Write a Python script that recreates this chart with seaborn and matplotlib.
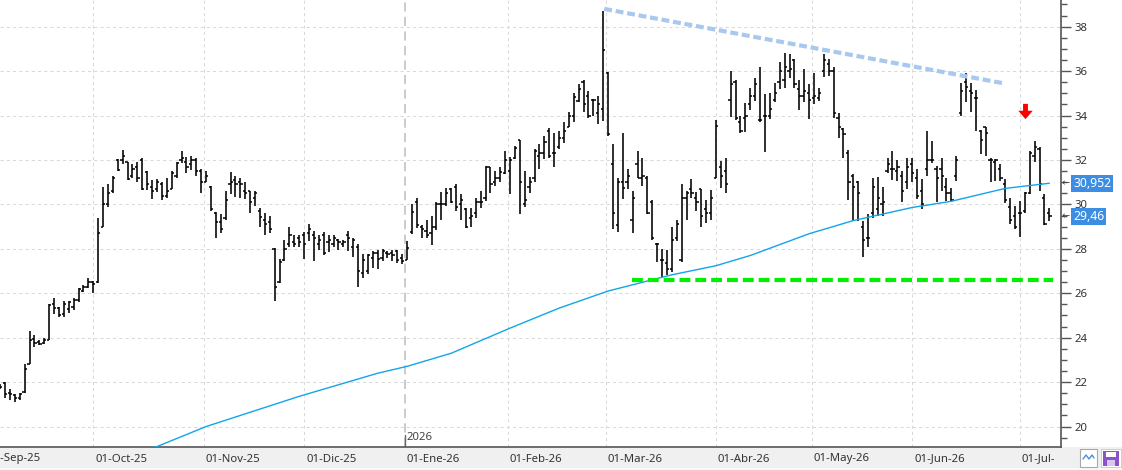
import numpy as np
import pandas as pd
import matplotlib
matplotlib.use("Agg")
import matplotlib.pyplot as plt
import matplotlib.transforms as mtransforms
from matplotlib.path import Path
from matplotlib.patches import Rectangle
from matplotlib.ticker import MultipleLocator
import seaborn as sns

# ---------------- data ----------------
START, END = "2025-09-04", "2026-07-09"
HOLIDAYS = ["2025-12-25", "2025-12-26", "2026-01-01", "2026-04-03", "2026-04-06", "2026-05-01"]
MONTH_ABBR = {1: "Ene", 2: "Feb", 3: "Mar", 4: "Abr", 5: "May", 6: "Jun",
              7: "Jul", 8: "Ago", 9: "Sep", 10: "Oct", 11: "Nov", 12: "Dic"}

high = [21.9, 22.0, 21.7, 21.45, 21.5, 22.8, 24.3, 24.1, 23.9, 24.0,
        25.5, 25.8, 25.4, 25.65, 25.65, 25.8, 26.25, 26.35, 26.7, 26.55,
        29.4, 30.8, 30.9, 31.3, 32.05, 32.45, 31.9, 31.8, 31.9, 32.1,
        31.5, 31.1, 31.15, 31.0, 31.2, 31.5, 31.9, 32.4, 32.15, 32.2,
        32.1, 31.6, 31.5, 30.85, 29.65, 29.55, 30.6, 31.45, 31.3, 31.2,
        31.0, 30.6, 30.6, 29.85, 29.6, 29.5, 28.05, 27.55, 28.4, 29.0,
        28.6, 28.6, 28.75, 29.1, 28.8, 28.6, 28.75, 28.6, 28.6, 28.45,
        28.4, 28.8, 28.5, 28.2, 27.75, 27.75, 27.9, 27.95, 28.0, 27.9,
        27.95, 27.95, 27.75, 28.35, 30.0, 30.3, 29.05, 29.3, 29.5, 30.1,
        30.55, 30.75, 30.75, 30.9, 30.45, 29.85, 29.85, 30.3, 30.6, 31.75,
        31.7, 31.5, 31.7, 32.4, 32.15, 32.65, 32.9, 31.5, 31.25, 32.5,
        32.7, 33.1, 33.45, 33.2, 33.3, 33.7, 34.15, 35.0, 35.4, 35.6,
        35.1, 34.75, 34.9, 38.7, 35.95, 32.7, 31.2, 33.2, 31.6, 30.6,
        32.4, 32.1, 31.3, 30.2, 28.25, 28.0, 27.95, 29.0, 29.3, 30.9,
        30.6, 31.15, 30.55, 30.7, 30.2, 30.65, 33.8, 31.95, 32.1, 36.0,
        35.6, 34.0, 34.55, 35.25, 35.7, 36.2, 34.95, 35.0, 35.45, 36.4,
        36.8, 36.75, 36.55, 35.6, 36.1, 35.4, 35.9, 35.25, 36.75, 36.55,
        36.2, 34.1, 33.45, 32.45, 31.35, 31.05, 29.25, 29.55, 31.2, 31.25,
        30.8, 32.1, 32.4, 32.0, 31.5, 32.1, 32.1, 31.6, 31.15, 33.3,
        32.85, 31.75, 32.1, 31.2, 30.75, 32.2, 35.45, 35.9, 35.45, 35.15,
        33.35, 33.5, 32.1, 32.05, 31.8, 31.15, 30.3, 29.95, 30.15, 30.55,
        32.4, 32.85, 32.6, 30.45, 29.85]

low = [21.7, 21.3, 21.2, 21.1, 21.2, 21.5, 22.8, 23.6, 23.65, 23.7,
       23.9, 25.05, 24.95, 24.95, 25.1, 25.25, 25.6, 26.05, 26.25, 26.0,
       26.45, 29.0, 29.9, 30.5, 31.5, 31.8, 31.1, 31.2, 31.0, 30.65,
       30.65, 30.25, 30.55, 30.2, 30.3, 30.7, 31.2, 31.85, 31.4, 31.55,
       31.3, 30.5, 31.0, 29.7, 28.5, 28.7, 29.3, 30.45, 30.35, 30.3,
       30.25, 29.6, 29.95, 29.0, 28.6, 28.7, 25.65, 26.45, 27.45, 28.1,
       28.1, 28.1, 27.55, 28.35, 27.45, 27.95, 27.7, 27.85, 28.1, 27.95,
       28.1, 27.9, 27.65, 26.3, 26.7, 26.85, 27.15, 27.1, 27.45, 27.6,
       27.45, 27.35, 27.3, 27.5, 28.65, 28.95, 28.5, 28.5, 28.15, 28.85,
       29.3, 29.95, 30.05, 29.7, 29.3, 28.95, 29.0, 29.4, 29.85, 30.15,
       30.5, 30.85, 31.0, 31.35, 30.45, 32.05, 29.55, 29.9, 30.5, 31.0,
       31.6, 32.05, 32.1, 31.7, 32.5, 32.75, 33.5, 33.7, 34.6, 34.15,
       33.9, 34.0, 33.6, 33.75, 33.1, 28.9, 28.75, 30.25, 30.7, 28.7,
       31.2, 30.85, 29.55, 28.4, 27.4, 26.75, 26.8, 26.95, 28.35, 27.4,
       29.3, 30.3, 29.7, 29.0, 29.15, 29.3, 31.2, 30.75, 30.5, 33.95,
       33.8, 33.2, 33.25, 34.25, 34.65, 33.7, 32.35, 33.85, 34.6, 35.2,
       35.25, 35.7, 35.25, 34.25, 34.6, 33.85, 34.5, 34.65, 35.75, 35.8,
       33.9, 33.0, 32.1, 30.2, 29.25, 29.25, 27.65, 28.1, 29.4, 29.5,
       29.5, 31.4, 31.1, 31.05, 30.1, 30.7, 31.0, 30.25, 29.8, 31.3,
       31.85, 30.1, 30.6, 30.15, 30.15, 31.05, 34.0, 34.6, 34.15, 33.3,
       32.25, 32.2, 31.0, 31.05, 31.05, 30.05, 29.1, 28.9, 28.55, 29.6,
       30.45, 31.9, 30.6, 29.05, 29.25]

open_ = [21.85, 21.95, 21.5, 21.4, 21.3, 21.55, 22.8, 23.95, 23.8, 23.75,
         23.9, 25.5, 25.35, 25.05, 25.3, 25.4, 25.7, 26.1, 26.3, 26.5,
         26.5, 29.0, 30.0, 30.6, 32.0, 32.0, 31.9, 31.3, 31.7, 32.0,
         31.45, 30.8, 30.7, 30.9, 30.4, 30.7, 31.3, 32.0, 31.9, 31.8,
         32.0, 31.5, 31.0, 30.8, 29.6, 29.2, 29.4, 30.9, 31.1, 31.0,
         30.6, 30.6, 30.3, 29.7, 29.3, 29.2, 28.0, 26.5, 27.5, 28.2,
         28.3, 28.5, 28.6, 28.7, 28.6, 28.2, 28.6, 28.3, 28.2, 28.4,
         28.2, 28.6, 28.1, 28.1, 26.9, 27.0, 27.6, 27.8, 27.6, 27.8,
         27.8, 27.9, 27.6, 27.5, 28.75, 30.1, 29.0, 28.8, 28.7, 29.0,
         30.0, 30.0, 30.7, 30.8, 30.0, 29.8, 29.4, 29.6, 30.1, 30.3,
         31.7, 31.0, 31.2, 31.4, 31.5, 32.1, 32.9, 30.0, 30.8, 31.2,
         32.2, 32.3, 33.3, 32.3, 32.6, 33.0, 33.5, 34.0, 34.65, 35.5,
         34.9, 34.7, 34.1, 34.3, 35.9, 31.8, 29.05, 31.0, 31.0, 29.3,
         31.8, 31.2, 31.2, 30.1, 28.2, 27.5, 27.35, 27.1, 28.5, 27.5,
         30.3, 30.7, 30.3, 30.7, 29.8, 29.6, 31.2, 31.7, 31.5, 34.7,
         35.5, 33.7, 33.9, 34.5, 34.9, 33.8, 34.0, 34.0, 34.7, 35.5,
         35.6, 36.0, 36.5, 35.2, 34.9, 35.0, 34.8, 34.8, 36.0, 36.3,
         36.0, 33.9, 33.4, 32.3, 31.3, 31.0, 29.0, 28.5, 29.6, 29.8,
         30.0, 31.5, 31.6, 31.5, 31.3, 31.0, 31.8, 31.2, 30.6, 31.6,
         32.0, 31.6, 31.6, 30.8, 30.5, 31.3, 34.1, 35.5, 35.1, 34.8,
         33.3, 33.5, 32.0, 31.9, 31.6, 30.9, 29.9, 29.5, 29.6, 29.7,
         30.5, 32.2, 32.5, 30.3, 29.6]

close = [21.8, 21.45, 21.45, 21.3, 21.45, 22.6, 23.9, 23.75, 23.7, 23.9,
         25.45, 25.35, 25.0, 25.5, 25.6, 25.7, 26.2, 26.3, 26.5, 26.4,
         28.7, 30.0, 30.5, 31.2, 31.55, 32.2, 31.15, 31.6, 31.2, 30.7,
         30.9, 30.6, 31.0, 30.4, 30.6, 31.4, 31.85, 32.1, 31.7, 32.0,
         31.5, 31.0, 31.3, 29.8, 29.2, 28.9, 30.2, 31.0, 30.9, 30.9,
         30.5, 30.1, 30.5, 29.45, 29.1, 28.9, 26.3, 27.4, 28.0, 28.6,
         28.2, 28.3, 28.2, 28.9, 28.5, 28.4, 27.8, 28.4, 28.5, 28.3,
         28.3, 28.5, 28.4, 27.0, 27.5, 27.7, 27.8, 27.55, 27.9, 27.75,
         27.7, 27.5, 27.45, 28.05, 29.65, 29.05, 28.9, 28.6, 29.0, 30.0,
         30.0, 30.5, 30.1, 29.9, 30.2, 29.0, 29.5, 30.1, 30.1, 31.7,
         30.9, 31.2, 31.45, 32.0, 32.0, 32.55, 31.0, 30.2, 31.0, 32.4,
         32.3, 32.8, 32.2, 32.3, 33.0, 33.3, 34.0, 34.85, 35.2, 34.5,
         34.0, 34.7, 34.5, 36.95, 33.15, 29.6, 31.0, 30.75, 31.3, 30.3,
         31.2, 31.3, 29.6, 28.5, 28.2, 27.5, 27.1, 28.4, 29.1, 30.3,
         30.5, 30.5, 30.1, 29.5, 29.6, 30.3, 33.55, 31.3, 30.9, 35.4,
         33.9, 33.3, 34.0, 34.9, 35.4, 33.8, 34.0, 34.3, 35.0, 36.0,
         36.2, 36.1, 35.4, 34.9, 35.1, 34.7, 34.9, 35.0, 36.5, 36.0,
         34.1, 33.5, 33.15, 31.0, 30.8, 30.5, 28.4, 28.5, 30.8, 30.3,
         30.1, 31.8, 31.6, 31.7, 30.6, 31.7, 31.4, 30.4, 30.0, 32.0,
         32.0, 31.2, 31.3, 30.5, 30.2, 32.0, 35.1, 35.3, 35.0, 34.8,
         32.9, 33.2, 32.0, 32.0, 31.2, 30.2, 29.3, 29.0, 29.6, 30.5,
         32.3, 32.6, 30.9, 29.1, 29.46]

# moving average read at sample bars (bar index, value)
ma_idx = [25, 32, 42, 61, 77, 83, 92, 104, 114, 124, 137, 146, 153, 165, 174, 186, 194, 205, 214]
ma_val = [18.75, 19.1, 20.0, 21.36, 22.4, 22.71, 23.3, 24.43, 25.33, 26.1, 26.83, 27.24, 27.7,
          28.68, 29.27, 29.86, 30.14, 30.72, 30.952]

# drawn studies
resist_idx = [123.2, 204.9]
resist_val = [38.8, 35.44]
support_idx = [128.8, 214.8]
support_val = [26.6, 26.6]
signal_idx = [209]
signal_val = [34.22]

y_ticks = [20, 22, 24, 26, 28, 30, 32, 34, 36, 38]

# ---------------- calendar ----------------
hol = pd.to_datetime(HOLIDAYS)
cal = pd.bdate_range("2025-09-01", END)
cal = cal[~cal.isin(hol)]
offset = cal.get_loc(pd.Timestamp(START))
dates = cal[offset:]
n = len(dates)
xi = np.arange(n)

month_pos, month_lab, month_ts = [], [], []
for m in pd.date_range("2025-09-01", "2026-07-01", freq="MS"):
    k = int(np.searchsorted(cal, m))
    pos = k - offset - (0 if cal[k] == m else 0.5)
    month_pos.append(pos)
    month_lab.append(f"01-{MONTH_ABBR[m.month]}-{m.strftime('%y')}")
    month_ts.append(m)

# ---------------- style ----------------
sns.set_style("white")
plt.rcParams['font.family'] = ['Noto Sans', 'DejaVu Sans']
FS = 8.2
W, H = 1122, 470
fig = plt.figure(figsize=(W / 100, H / 100), dpi=100, facecolor="white")
AX_BOTTOM = 23
AX_RIGHT = 1061
ax = fig.add_axes([0, AX_BOTTOM / H, AX_RIGHT / W, (H - AX_BOTTOM) / H])
ax.set_facecolor("white")

# bottom band
fig.add_artist(Rectangle((0, 0), 1, AX_BOTTOM / H, transform=fig.transFigure,
                         fc="#f0f0f0", ec="none", zorder=-5))
fig.add_artist(Rectangle((0, 0), 1, 2 / H, transform=fig.transFigure,
                         fc="#f9f9f9", ec="none", zorder=-4))

# grid
grid_kw = dict(color="#d9d9d9", lw=0.75, ls=(0, (3, 3)), zorder=0.5)
for yv in y_ticks:
    ax.axhline(yv, **grid_kw)
for pos, ts in zip(month_pos, month_ts):
    if ts.month != 1:
        ax.axvline(pos, **grid_kw)
jan_pos = [p for p, t in zip(month_pos, month_ts) if t.month == 1][0]
ax.axvline(jan_pos, color="#bdbdbd", lw=1.1, ls=(0, (6, 3.5)), zorder=0.6)
blend = mtransforms.blended_transform_factory(ax.transData, ax.transAxes)
ax.plot([jan_pos, jan_pos], [0, 12 / (H - AX_BOTTOM)], transform=blend, color="#666666", lw=1, zorder=0.7)
ax.annotate("2026", xy=(jan_pos, 0), xycoords=("data", "axes fraction"), xytext=(2, 10),
            textcoords="offset pixels", ha="left", va="center", fontsize=FS, color="#444444")

# OHLC bars
hi = np.array(high); lo = np.array(low); op = np.array(open_); cl = np.array(close)
ax.vlines(xi, lo, hi, color="black", lw=1.15, zorder=3)
ax.hlines(op, xi - 0.45, xi, color="black", lw=1.1, zorder=3)
ax.hlines(cl, xi, xi + 0.45, color="black", lw=1.1, zorder=3)

# moving average
sns.lineplot(x=ma_idx, y=ma_val, ax=ax, color="#12a5ea", lw=1.0, zorder=4)

# trend lines
ax.plot(resist_idx, resist_val, color="#a9c8ef", lw=3.0, ls=(0, (1.9, 0.9)), zorder=4,
        solid_capstyle="butt", dash_capstyle="butt")
ax.plot(support_idx, support_val, color="#00ee00", lw=3.0, ls=(0, (2.6, 1.2)), zorder=4,
        dash_capstyle="butt")

# signal arrow
arrow = Path([(-0.32, 1), (0.32, 1), (0.32, 0.1), (0.95, 0.1), (0, -1), (-0.95, 0.1),
              (-0.32, 0.1), (-0.32, 1)], closed=True)
ax.plot(signal_idx, signal_val, marker=arrow, ms=11, color="#ff0000", ls="none", zorder=5,
        markeredgewidth=0)

# limits (after all plotting so autoscaling does not move them)
ax.set_xlim(-0.02, 216.37)
ax.set_ylim(19.08, 39.2)

# axes decoration
for s in ["top", "left"]:
    ax.spines[s].set_visible(False)
for s in ["bottom", "right"]:
    ax.spines[s].set_color("#555555")
    ax.spines[s].set_linewidth(1.2)

ax.yaxis.tick_right()
ax.set_yticks(y_ticks)
ax.yaxis.set_minor_locator(MultipleLocator(0.5))
ax.tick_params(axis="y", which="major", direction="out", length=7, width=1, colors="#555555",
               labelcolor="#333333", labelsize=FS, pad=3)
ax.tick_params(axis="y", which="minor", direction="out", length=4, width=1, colors="#555555")
ax.set_xticks(month_pos)
ax.set_xticklabels([])
ax.tick_params(axis="x", which="major", direction="out", length=8, width=1, colors="#555555")
ax.set_xlim(-0.02, 216.37)
ax.set_xlabel(""); ax.set_ylabel("")

clip = mtransforms.Bbox.from_extents(0, 0, AX_RIGHT - 7, H)
for pos, lab in zip(month_pos, month_lab):
    t = ax.annotate(lab, xy=(pos, 0), xycoords=("data", "axes fraction"), xytext=(2, -12),
                    textcoords="offset pixels", ha="left", va="center", fontsize=FS,
                    color="#333333", annotation_clip=False)
    t.set_clip_on(True)
    t.set_clip_box(clip)

# price labels
def price_label(val, text):
    ax.annotate(text, xy=(1, val), xycoords=("axes fraction", "data"), xytext=(12, 0),
                textcoords="offset pixels", ha="left", va="center", fontsize=FS + 0.6,
                color="white", annotation_clip=False, zorder=10,
                bbox=dict(boxstyle="square,pad=0.18", fc="#3d8ee3", ec="none"))
    ax.annotate("\u2190", xy=(1, val), xycoords=("axes fraction", "data"), xytext=(1, 0),
                textcoords="offset pixels", ha="left", va="center", fontsize=7,
                color="#444444", annotation_clip=False, family="DejaVu Sans", zorder=10)

price_label(ma_val[-1], f"{ma_val[-1]:.3f}".replace(".", ","))
price_label(close[-1], f"{close[-1]:.2f}".replace(".", ","))

# toolbar icons
def px_rect(x0, y0, x1, y1, **kw):
    fig.add_artist(Rectangle((x0 / W, 1 - y1 / H), (x1 - x0) / W, (y1 - y0) / H,
                             transform=fig.transFigure, **kw))

px_rect(1080, 449, 1097, 467, fc="white", ec="#a8a8a8", lw=0.8, zorder=2)
fig.add_artist(plt.Line2D([1083 / W, 1086 / W, 1089 / W, 1092 / W, 1094 / W],
                          [1 - 459 / H, 1 - 455 / H, 1 - 459 / H, 1 - 455 / H, 1 - 458 / H],
                          transform=fig.transFigure, color="#4a90d9", lw=1.0, zorder=3))
px_rect(1101, 449, 1121, 467, fc="white", ec="#c8c8c8", lw=0.6, zorder=2)
px_rect(1103, 451, 1119, 466, fc="#8e52c8", ec="none", zorder=3)
px_rect(1106, 452, 1116, 457, fc="white", ec="none", zorder=4)
px_rect(1107, 460, 1115, 466, fc="#d8c8f0", ec="none", zorder=4)

fig.savefig("out.png", dpi=100, facecolor="white")
